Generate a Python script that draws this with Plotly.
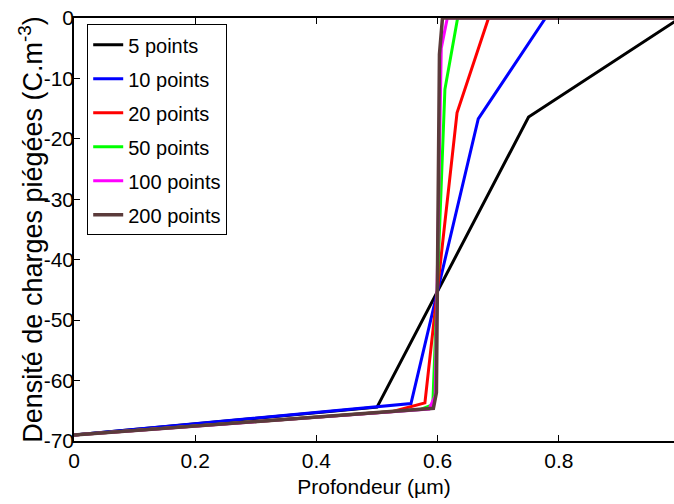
import plotly.graph_objects as go

# Data (vertices of each piecewise-linear profile)
x5 = [0, 0.25, 0.5, 0.75, 1.0]
y5 = [-69, -66.7, -64.4, -16.4, 0]
x10 = [0, 0.556, 0.667, 0.778, 1.0]
y10 = [-69, -63.8, -16.7, 0, 0]
x20 = [0, 0.526, 0.579, 0.632, 0.684, 1.0]
y20 = [-69, -65.1, -63.7, -15.7, 0, 0]
x50 = [0, 0.571, 0.592, 0.612, 0.633, 1.0]
y50 = [-69, -64.8, -64.0, -11.8, 0, 0]
x100 = [0, 0.586, 0.596, 0.606, 0.616, 1.0]
y100 = [-69, -64.7, -62.5, -5.0, 0, 0]
x200 = [0, 0.593, 0.598, 0.603, 0.608, 1.0]
y200 = [-69, -64.6, -62.0, -6.0, 0, 0]

names = ["5 points", "10 points", "20 points", "50 points", "100 points", "200 points"]
colors = ["#000000", "#0000ff", "#ff0000", "#00ff00", "#ff00ff", "#5b3b3b"]
xs = [x5, x10, x20, x50, x100, x200]
ys = [y5, y10, y20, y50, y100, y200]

x_ticks = [0, 0.2, 0.4, 0.6, 0.8]
x_ticklabels = ["0", "0.2", "0.4", "0.6", "0.8"]
y_ticks = [0, -10, -20, -30, -40, -50, -60, -70]
y_ticklabels = ["0", "-10", "-20", "-30", "-40", "-50", "-60", "-70"]

FONT = "Liberation Sans"

fig = go.Figure()
for x, y, n, c in zip(xs, ys, names, colors):
    fig.add_trace(go.Scatter(x=x, y=y, mode="lines", name=n, legendgroup=n,
                             line=dict(color=c, width=3 if n != "200 points" else 3.5)))

fig.update_layout(
    width=674, height=504,
    margin=dict(l=74, r=0, t=18, b=63),
    plot_bgcolor="white", paper_bgcolor="white",
    font=dict(family=FONT, size=21, color="black"),
    showlegend=True,
    legend=dict(x=0.022, y=0.985, xanchor="left", yanchor="top",
                bgcolor="white", bordercolor="black", borderwidth=1,
                font=dict(family=FONT, size=20, color="black"),
                itemwidth=30, tracegroupgap=5),
    xaxis=dict(range=[0, 0.99], tickvals=x_ticks, ticktext=x_ticklabels,
               ticks="inside", ticklen=6, tickcolor="black", tickwidth=1,
               showline=True, linecolor="black", linewidth=1.5, mirror="ticks",
               showgrid=False, zeroline=False, automargin=False,
               ticklabeloverflow="allow",
               tickfont=dict(family=FONT, size=21),
               title=dict(text="Profondeur (µm)", standoff=8,
                          font=dict(family=FONT, size=21))),
    yaxis=dict(range=[-70, 0], tickvals=y_ticks, ticktext=y_ticklabels,
               ticks="inside", ticklen=6, tickcolor="black", tickwidth=1,
               showline=True, linecolor="black", linewidth=1.5,
               showgrid=False, zeroline=False, automargin=False,
               ticklabelstandoff=-6, ticklabeloverflow="allow",
               tickfont=dict(family=FONT, size=21)),
    annotations=[dict(text="Densité de charges piégées (C.m<sup>-3</sup>)",
                      xref="paper", yref="paper", x=-0.073, y=0.5,
                      xanchor="center", yanchor="middle", textangle=-90,
                      showarrow=False, font=dict(family=FONT, size=27))],
)

fig.write_html("out.html",
               config={"displayModeBar": False},
               post_script="document.body.style.margin='0';document.body.style.overflow='hidden';")
